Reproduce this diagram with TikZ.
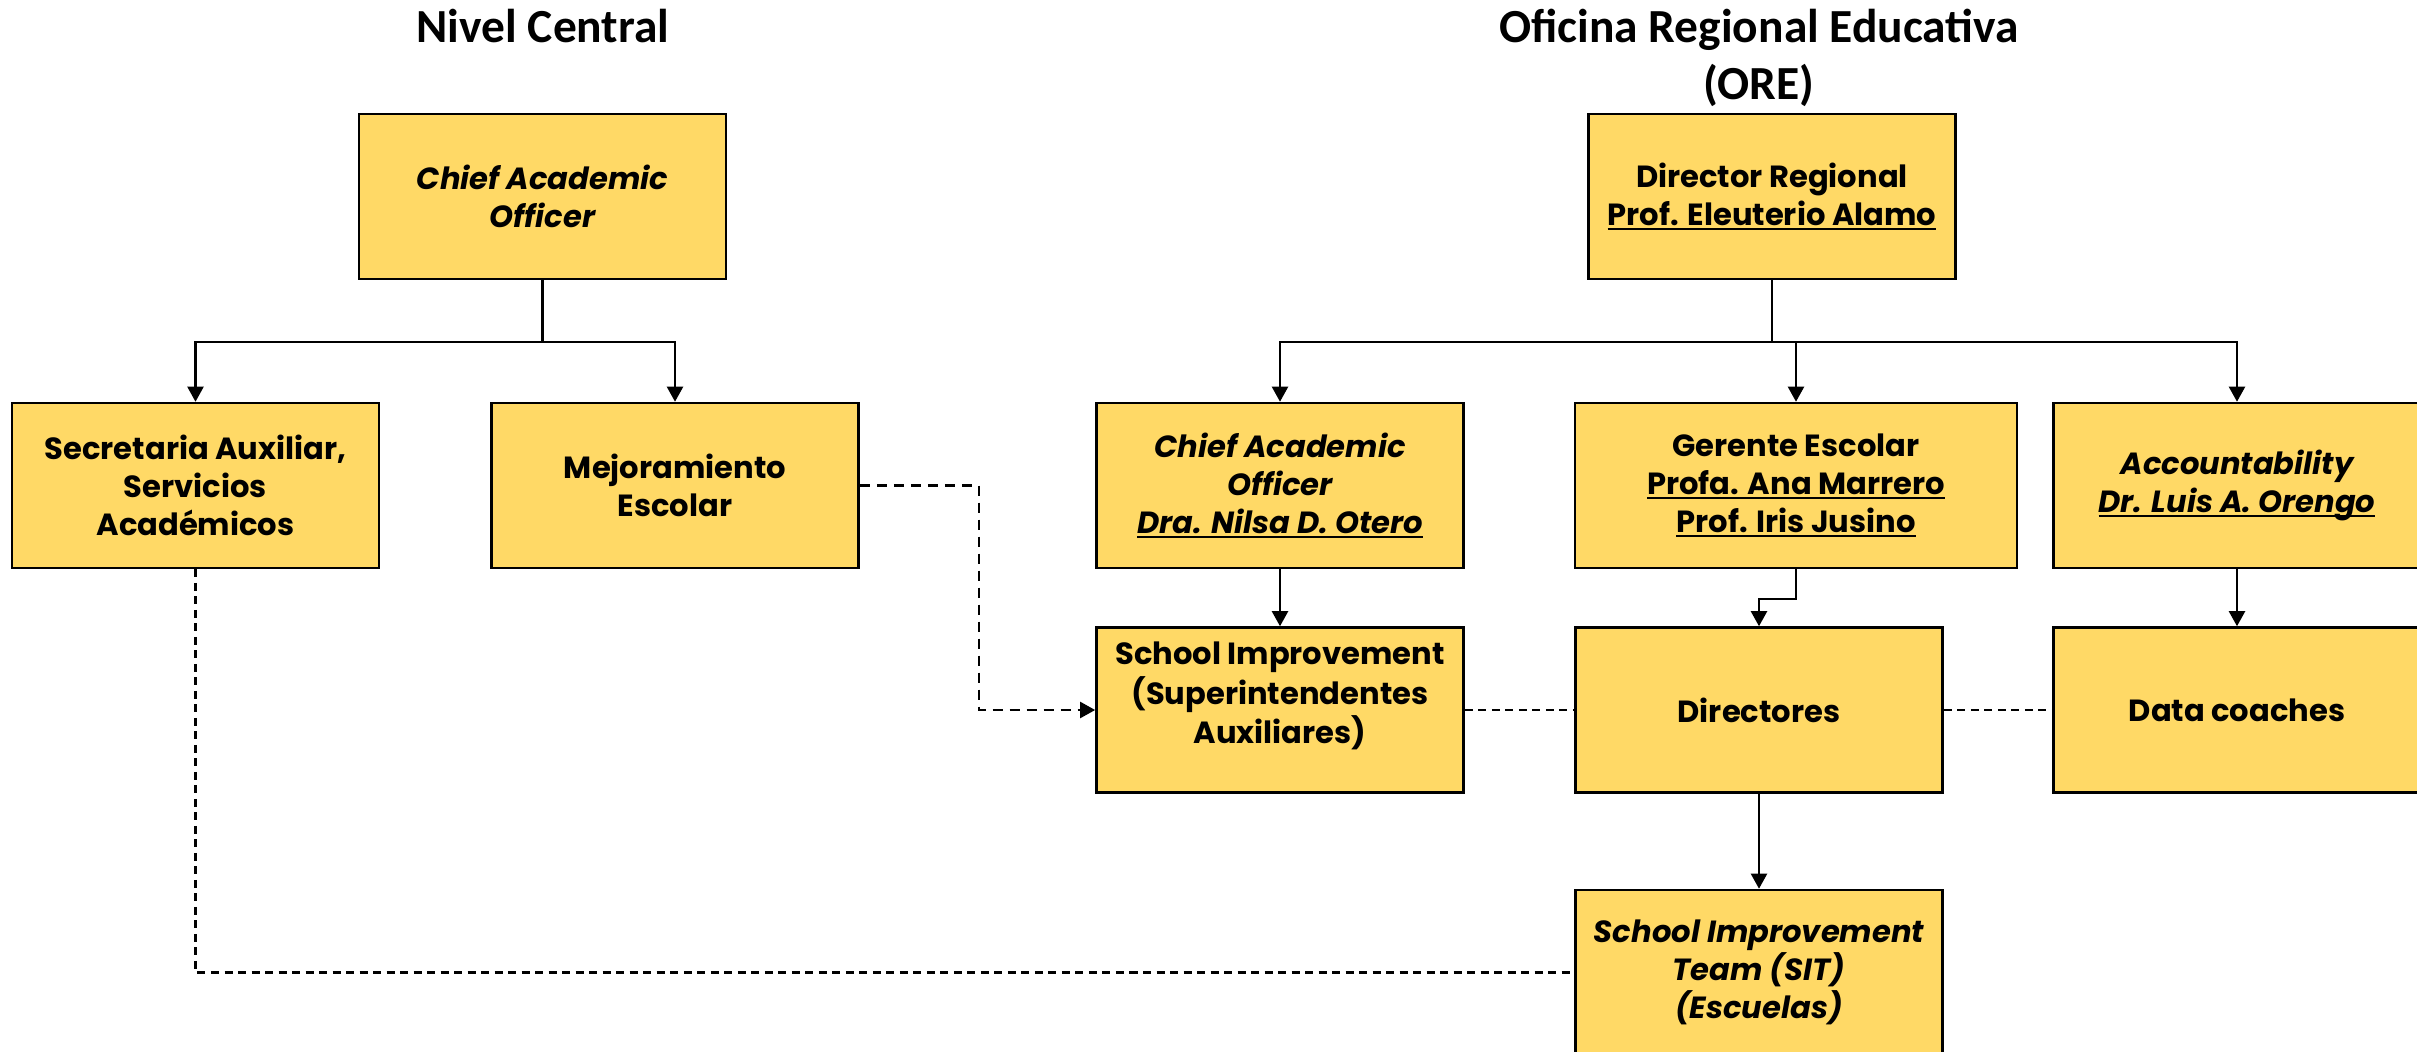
\documentclass[tikz,border=0pt]{standalone}
\usepackage{fontspec}
\setmainfont{Poppins}
\newfontfamily\titlefont{Carlito}
\usetikzlibrary{arrows.meta}
\definecolor{boxfill}{HTML}{FFD966}
\newcommand\ulc[1]{\leavevmode\sbox0{#1}\rlap{\rule[-1.4pt]{\wd0}{0.7pt}}\usebox0}
\begin{document}
\begin{tikzpicture}[x=0.01cm,y=-0.01cm,
  box/.style={draw=black, line width=0.7pt, fill=boxfill, minimum width=3.67cm, minimum height=1.65cm, inner sep=0pt, align=center, font=\fontsize{8.7pt}{10.8pt}\selectfont\bfseries},
  boxit/.style={box, font=\fontsize{8.7pt}{10.8pt}\selectfont\bfseries\itshape},
  title/.style={font=\titlefont\fontsize{13.5pt}{16.2pt}\selectfont\bfseries, align=center, inner sep=0pt},
  tree/.style={line width=0.6pt},
  arr/.style={tree, -{Triangle[length=0.15cm,width=0.16cm]}},
  dotline/.style={line width=0.6pt, dash pattern=on 0.08cm off 0.055cm},
  dasharr/.style={line width=0.65pt, dash pattern=on 0.1cm off 0.07cm, -{Triangle[length=0.15cm,width=0.16cm]}},
]
\useasboundingbox (0,0) rectangle (2417,1051);
% titles
\node[title, anchor=base] (t1) at (543,42) {Nivel Central};
\node[title, anchor=base] (t2) at (1759,99) {Oficina Regional Educativa\\(ORE)};
% left tree
\node[boxit] (cao1) at (542.5,196.5) {Chief Academic\\Officer};
\node[box] (sec) at (195.5,485.5) {Secretaria Auxiliar,\\Servicios\\Académicos};
\node[box] (mej) at (675,485.5) {Mejoramiento\\Escolar};
% right tree
\node[box] (dir) at (1772,196.5) {Director Regional\\\ulc{Prof. Eleuterio Alamo}};
\node[boxit] (cao2) at (1280,485.5) {Chief Academic\\Officer\\\ulc{Dra. Nilsa D. Otero}};
\node[box, minimum width=4.42cm] (ger) at (1796,485.5) {Gerente Escolar\\\ulc{Profa. Ana Marrero}\\\ulc{Prof. Iris Jusino}};
\node[boxit] (acc) at (2237,485.5) {Accountability\\\ulc{Dr. Luis A. Orengo}};
\node[box] (sup) at (1280,710) {\begin{tabular}{@{}c@{}}School Improvement\\(Superintendentes\\Auxiliares)\\[0.27cm]\end{tabular}};
\node[box] (dirs) at (1759,710) {Directores};
\node[box] (data) at (2237,710) {Data coaches};
\node[boxit] (sit) at (1759,972.5) {School Improvement\\Team (SIT)\\(Escuelas)};
% tree connectors
\coordinate (b1) at (542.5,342);
\coordinate (b2) at (1772,342);
\draw[tree] (cao1.south) -- (b1);
\draw[arr] (b1) -| (sec.north);
\draw[arr] (b1) -| (mej.north);
\draw[tree] (dir.south) -- (b2);
\draw[arr] (b2) -| (cao2.north);
\draw[arr] (b2) -| (ger.north);
\draw[arr] (b2) -| (acc.north);
\draw[arr] (cao2.south) -- (sup.north);
\draw[arr] (acc.south) -- (data.north);
\draw[arr] (ger.south) -- ++(0,30) -| (dirs.north);
\draw[arr] (dirs.south) -- (sit.north);
% dashed links
\draw[dasharr] (mej.east) -- ++(119,0) |- (sup.west);
\draw[dotline] (sup.east) -- (dirs.west);
\draw[dotline] (dirs.east) -- (data.west);
\draw[dotline] (sec.south) |- (sit.west);
\end{tikzpicture}
\end{document}
